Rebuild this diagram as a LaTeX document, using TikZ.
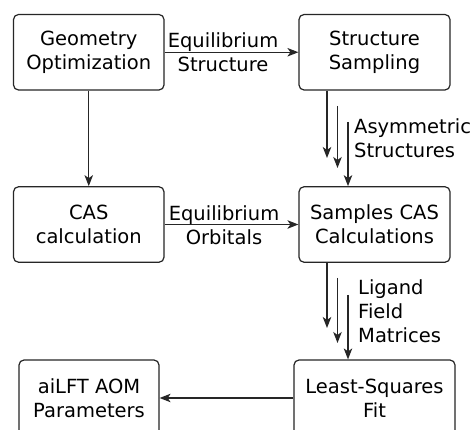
\documentclass[tikz,border=0pt]{standalone}
\usepackage{fontspec}
\setmainfont{DejaVu Sans}
\usetikzlibrary{arrows.meta}
\begin{document}
\begin{tikzpicture}[x=1pt,y=-1pt,
  every node/.style={font=\fontsize{19.5}{24}\selectfont, align=center, inner sep=0pt},
  box/.style={draw=black!85, line width=1.2pt, rounded corners=5pt, minimum height=75.5pt},
  conn/.style={draw=black!85, line width=1.2pt, -{Stealth[length=11pt,width=8.5pt,inset=3pt]}},
  lbl/.style={align=center},
  lbll/.style={align=left, anchor=west}]
\useasboundingbox (0,0) rectangle (474,430);
\fill[white] (0,0) rectangle (474,430);
% boxes
\node[box, minimum width=150.5pt] (geo) at (88.75,52.25) {Geometry\\Optimization};
\node[box, minimum width=151pt] (ss) at (374.5,52.25) {Structure\\Sampling};
\node[box, minimum width=150.5pt] (cas) at (88.75,224.5) {CAS\\calculation};
\node[box, minimum width=151pt] (scas) at (374.5,224.5) {Samples CAS\\Calculations};
\node[box, minimum width=140pt, minimum height=76pt] (ailft) at (89,398) {aiLFT AOM\\Parameters};
\node[box, minimum width=161pt, minimum height=76pt] (lsf) at (374.5,398) {Least-Squares\\Fit};
% connectors
\draw[conn] (geo.east) -- (ss.west);
\node[lbl] (l1) at (223,52) {Equilibrium\\Structure};
\draw[conn] (geo.south) -- (cas.north);
\draw[conn] (cas.east) -- (scas.west);
\node[lbl] (l2) at (224,225) {Equilibrium\\Orbitals};
\draw[conn] (lsf.west) -- (ailft.east);
% triple arrows 1
\draw[conn] (ss.south -| 327,0) -- (327,158);
\coordinate (a2s) at (337.5,106); \coordinate (a2e) at (337.5,168);
\draw[conn] (a2s) -- (a2e);
\coordinate (a3s) at (348,122);
\draw[conn] (a3s) -- (a3s |- scas.north);
\node[lbll] (l3) at (354,138) {Asymmetric\\Structures};
% triple arrows 2
\draw[conn] (scas.south -| 327,0) -- (327,328);
\coordinate (b2s) at (337.5,278); \coordinate (b2e) at (337.5,343);
\draw[conn] (b2s) -- (b2e);
\coordinate (b3s) at (348,295);
\draw[conn] (b3s) -- (b3s |- lsf.north);
\node[lbll] (l4) at (358,311) {Ligand\\Field\\Matrices};
\end{tikzpicture}
\end{document}
